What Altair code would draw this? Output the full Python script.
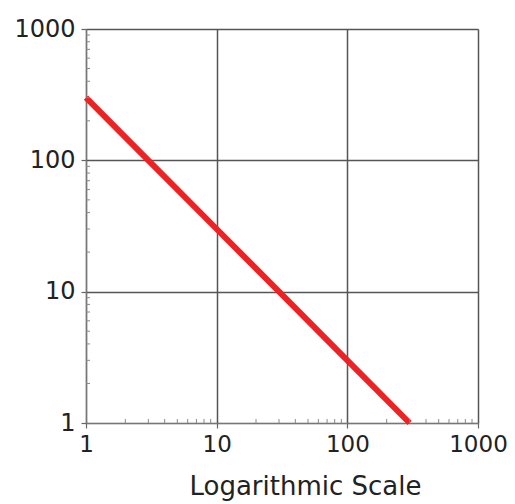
import altair as alt
import pandas as pd

# Data
x_vals = [1, 3, 10, 30, 100, 300]
y_vals = [300, 100, 30, 10, 3, 1]
major_ticks = [1, 10, 100, 1000]
minor_ticks = [2, 3, 4, 5, 6, 7, 8, 9,
               20, 30, 40, 50, 60, 70, 80, 90,
               200, 300, 400, 500, 600, 700, 800, 900]
x_title = "Logarithmic Scale"

df = pd.DataFrame({"x": x_vals, "y": y_vals})
minor = pd.DataFrame({"x": minor_ticks, "y": minor_ticks})

W, H = 392, 394
FONT = "DejaVu Sans"

xscale = alt.Scale(type="log", domain=[1, 1000], nice=False)
yscale = alt.Scale(type="log", domain=[1, 1000], nice=False)

common_axis = dict(
    values=major_ticks, format="d", labelFont=FONT,
    labelColor="#222", tickSize=5, tickColor="#666", tickWidth=1.2,
    domainColor="#777", domainWidth=1.2, gridColor="#555", gridWidth=1.5,
    grid=True, labelOverlap=False, labelFlush=False,
)

x_axis = alt.Axis(title=x_title, titleFont=FONT, titleFontSize=26,
                  titleFontWeight="normal", titleColor="#222",
                  titleX=219, titleY=71, titleAlign="center",
                  titleBaseline="alphabetic", labelPadding=5,
                  labelFontSize=23, **common_axis)
y_axis = alt.Axis(title=None, labelPadding=6, labelFontSize=24, **common_axis)

line = alt.Chart(df).mark_line(color="#ee2222", strokeWidth=6).encode(
    x=alt.X("x:Q", scale=xscale, axis=x_axis),
    y=alt.Y("y:Q", scale=yscale, axis=y_axis),
)

minor_x = alt.Chart(minor).mark_rule(color="#888", strokeWidth=1).encode(
    x=alt.X("x:Q", scale=xscale, axis=x_axis),
    y=alt.value(H),
    y2=alt.value(H - 4),
)

minor_y = alt.Chart(minor).mark_rule(color="#888", strokeWidth=1).encode(
    y=alt.Y("y:Q", scale=yscale, axis=y_axis),
    x=alt.value(0),
    x2=alt.value(4),
)

chart = alt.layer(line, minor_x, minor_y).properties(
    width=W, height=H,
    autosize=alt.AutoSizeParams(type="none"),
    padding={"left": 78, "top": 21, "right": 29, "bottom": 81},
).configure_view(stroke="#777", strokeWidth=1.2).configure(background="white")

chart.save("out.html", embed_options={"renderer": "svg", "actions": False})
